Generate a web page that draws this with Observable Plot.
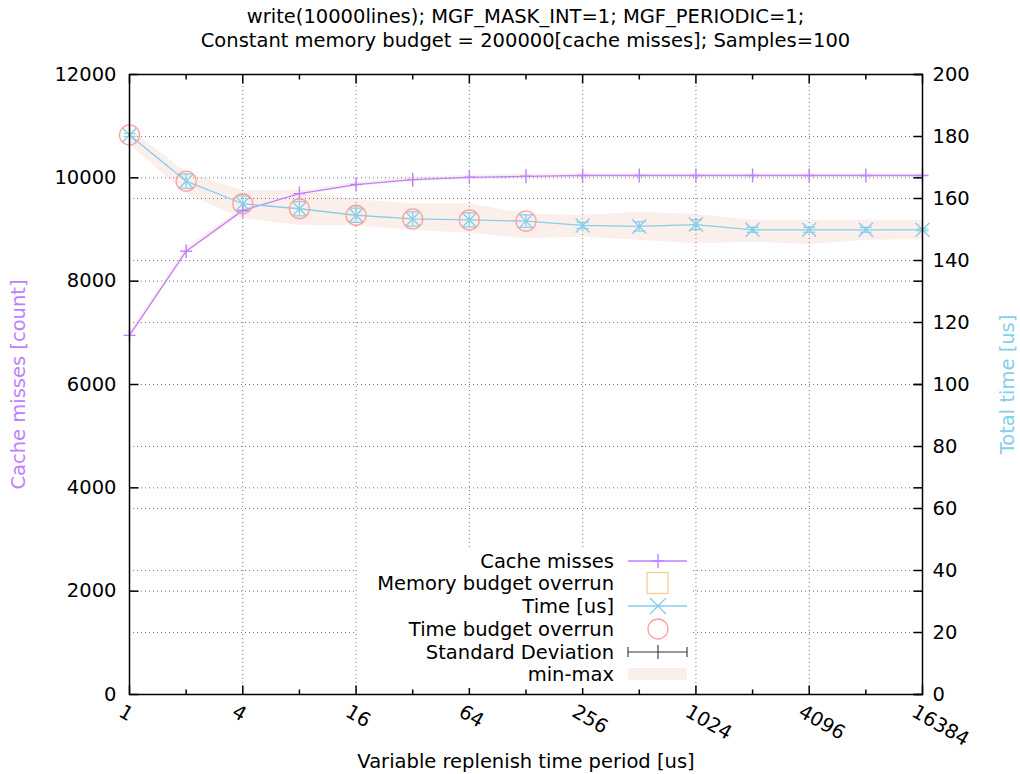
<!DOCTYPE html>
<html><head><meta charset="utf-8">
<script src="https://cdn.jsdelivr.net/npm/d3@7"></script>
<script src="https://cdn.jsdelivr.net/npm/@observablehq/plot@0.6"></script>
<style>
body{margin:0;background:#fff;font-family:"DejaVu Sans",sans-serif;}
#wrap{position:relative;width:1020px;height:774px;overflow:hidden;}
#title{position:absolute;left:31px;width:989px;top:5px;text-align:center;font-size:19.5px;line-height:24px;color:#000;}
#chart{position:absolute;left:0;top:60px;}
#legend{position:absolute;left:357px;top:548px;}
</style></head><body>
<div id="wrap">
<div id="title">write(10000lines); MGF_MASK_INT=1; MGF_PERIODIC=1;<br>Constant memory budget = 200000[cache misses]; Samples=100</div>
<div id="chart"></div>
<div id="legend"></div>
</div>
<script>
// ---- data ----
const periods     = [1, 2, 4, 8, 16, 32, 64, 128, 256, 512, 1024, 2048, 4096, 8192, 16384];
const cacheMisses = [6950, 8580, 9370, 9695, 9870, 9965, 10010, 10030, 10045, 10045, 10045, 10045, 10045, 10045, 10045];
const timeUs      = [180.5, 165.6, 158.3, 156.7, 154.6, 153.4, 153.1, 152.7, 151.3, 151.0, 151.6, 149.9, 149.9, 149.9, 149.9];
const timeMin     = [177.5, 161.5, 153.5, 151.3, 151.2, 149.7, 148.8, 147.0, 147.5, 146.5, 145.4, 145.9, 145.2, 146.5, 146.7];
const timeMax     = [182.5, 168.5, 162.5, 162.7, 159.6, 158.3, 158.3, 155.0, 154.5, 155.6, 154.8, 153.0, 153.0, 153.0, 153.0];
const timeSd      = [0.5, 2.3, 2.5, 2.3, 2.3, 2.3, 2.3, 2.0, 1.0, 1.5, 1.6, 0.8, 0.8, 0.8, 0.3];
const cacheMin    = [6890, 8520, 9320, 9650, 9830, 9925, 9970, 9990, 10005, 10005, 10005, 10005, 10005, 10005, 10005];
const cacheMax    = [7010, 8640, 9420, 9740, 9910, 10005, 10050, 10070, 10085, 10085, 10085, 10085, 10085, 10085, 10085];
const timeOverrunPeriods = [1, 2, 4, 8, 16, 32, 64, 128];
const xTickValues  = [1, 4, 16, 64, 256, 1024, 4096, 16384];
const xMinorValues = [2, 8, 32, 128, 512, 2048, 8192];
const yTickValues  = [0, 2000, 4000, 6000, 8000, 10000, 12000];
const y2TickValues = [0, 20, 40, 60, 80, 100, 120, 140, 160, 180, 200];
const legendLabels = ["Cache misses", "Memory budget overrun", "Time [us]", "Time budget overrun", "Standard Deviation", "min-max"];

// ---- styles ----
const PURPLE = "#c080ff", BLUE = "#87ceeb", SALMON = "#ffa0a0", ORANGE = "#f5cf8e", BAND = "#faefea";
const FS = "19.5px";
const K = 12000 / 200; // right-axis (time) to left-axis units

const rows = periods.map((p, i) => ({
  x: p, cm: cacheMisses[i], cmMin: cacheMin[i], cmMax: cacheMax[i],
  t: timeUs[i], tMin: timeMin[i], tMax: timeMax[i], sd: timeSd[i]
}));
const overrun = rows.filter(r => timeOverrunPeriods.includes(r.x));

const sym = (fn) => ({draw: fn});
const plusSym  = sym((c) => { c.moveTo(-6, 0); c.lineTo(6, 0); c.moveTo(0, -7); c.lineTo(0, 7); });
const timesSym = sym((c) => { c.moveTo(-7, -7); c.lineTo(7, 7); c.moveTo(-7, 7); c.lineTo(7, -7); });
const capSym   = sym((c) => { c.moveTo(-6, 0); c.lineTo(6, 0); });
const tickR = (n) => sym((c) => { c.moveTo(0, 0); c.lineTo(n, 0); });
const tickL = (n) => sym((c) => { c.moveTo(0, 0); c.lineTo(-n, 0); });
const tickU = (n) => sym((c) => { c.moveTo(0, 0); c.lineTo(0, -n); });
const tickD = (n) => sym((c) => { c.moveTo(0, 0); c.lineTo(0, n); });

const gridStyle = {stroke: "#777", strokeOpacity: 1, strokeWidth: 1, strokeDasharray: "1,3"};

const chart = Plot.plot({
  width: 1020, height: 714,
  marginTop: 14, marginBottom: 80, marginLeft: 129, marginRight: 98,
  style: {fontFamily: "DejaVu Sans, sans-serif", fontSize: FS, color: "#000", background: "transparent"},
  x: {type: "log", base: 2, domain: [1, 16384], axis: null},
  y: {domain: [0, 12000]},
  marks: [
    Plot.areaY(rows, {x: "x", y1: d => d.tMin * K, y2: d => d.tMax * K, fill: BAND}),
    Plot.areaY(rows, {x: "x", y1: "cmMin", y2: "cmMax", fill: BAND}),
    Plot.gridX(xTickValues, {x: d => d, ...gridStyle}),
    Plot.gridY(yTickValues, {y: d => d, ...gridStyle}),
    Plot.gridY(y2TickValues, {y: d => d * K, ...gridStyle}),
    // axes ticks (inward, gnuplot style)
    Plot.dot(yTickValues, {y: d => d, frameAnchor: "left", symbol: tickR(9), stroke: "black", fill: "none"}),
    Plot.dot(yTickValues, {y: d => d, frameAnchor: "right", symbol: tickL(9), stroke: "black", fill: "none"}),
    Plot.dot(y2TickValues, {y: d => d * K, frameAnchor: "right", symbol: tickL(9), stroke: "black", fill: "none"}),
    Plot.dot(xTickValues, {x: d => d, frameAnchor: "bottom", symbol: tickU(9), stroke: "black", fill: "none"}),
    Plot.dot(xMinorValues, {x: d => d, frameAnchor: "bottom", symbol: tickU(5), stroke: "black", fill: "none"}),
    Plot.dot(xTickValues, {x: d => d, frameAnchor: "top", symbol: tickD(9), stroke: "black", fill: "none"}),
    Plot.dot(xMinorValues, {x: d => d, frameAnchor: "top", symbol: tickD(5), stroke: "black", fill: "none"}),
    Plot.axisY({ticks: yTickValues, tickFormat: d => String(d), tickSize: 0, tickPadding: 13, label: null, fontSize: FS}),
    Plot.axisY({anchor: "right", ticks: y2TickValues.map(t => t * K), tickFormat: d => String(Math.round(d / K)), tickSize: 0, tickPadding: 10, label: null, fontSize: FS}),
    Plot.text(xTickValues, {x: d => d, text: d => String(d), frameAnchor: "bottom", rotate: 30, textAnchor: "start", lineAnchor: "top", dx: -5, dy: 9, fontSize: FS}),
    Plot.text(["Variable replenish time period [us]"], {frameAnchor: "bottom", textAnchor: "middle", dy: 73, fontSize: FS}),
    Plot.text(["Cache misses [count]"], {frameAnchor: "left", textAnchor: "middle", dx: -111, rotate: -90, fill: PURPLE, fontSize: FS}),
    Plot.text(["Total time [us]"], {frameAnchor: "right", textAnchor: "middle", dx: 85, rotate: -90, fill: BLUE, fontSize: FS}),
    // series
    Plot.line(rows, {x: "x", y: "cm", stroke: PURPLE, strokeWidth: 1.3}),
    Plot.line(rows, {x: "x", y: d => d.t * K, stroke: BLUE, strokeWidth: 1.3}),
    Plot.ruleX(rows, {x: "x", y1: d => (d.t - d.sd) * K, y2: d => (d.t + d.sd) * K, stroke: BLUE, strokeWidth: 1.2}),
    Plot.dot(rows, {x: "x", y: d => (d.t - d.sd) * K, symbol: capSym, stroke: BLUE, fill: "none", strokeWidth: 1.2}),
    Plot.dot(rows, {x: "x", y: d => (d.t + d.sd) * K, symbol: capSym, stroke: BLUE, fill: "none", strokeWidth: 1.2}),
    Plot.dot(rows, {x: "x", y: "cm", symbol: plusSym, stroke: PURPLE, fill: "none", strokeWidth: 1.4}),
    Plot.dot(rows, {x: "x", y: d => d.t * K, symbol: timesSym, stroke: BLUE, fill: "none", strokeWidth: 1.4}),
    Plot.dot(overrun, {x: "x", y: d => d.t * K, r: 10, stroke: SALMON, fill: "none", strokeWidth: 1.3}),
    Plot.frame({stroke: "black", strokeWidth: 1.5})
  ]
});
document.getElementById("chart").appendChild(chart);

// ---- legend (inside plot area, white box) ----
const L = d3.select("#legend").append("svg").attr("width", 336).attr("height", 140)
  .style("font-family", "DejaVu Sans, sans-serif").style("font-size", FS);
L.append("rect").attr("width", 336).attr("height", 140).attr("fill", "#fff");
const rowY = [13, 35, 58, 81, 104, 126];
legendLabels.forEach((lab, i) => {
  L.append("text").attr("x", 257).attr("y", rowY[i]).attr("text-anchor", "end")
    .attr("dominant-baseline", "central").text(lab);
});
const sx0 = 271, sx1 = 330, sc = 301;
let y = rowY[0];
L.append("line").attr("x1", sx0).attr("x2", sx1).attr("y1", y).attr("y2", y).attr("stroke", PURPLE).attr("stroke-width", 1.3);
L.append("path").attr("d", `M${sc-6},${y}h12M${sc},${y-7}v14`).attr("stroke", PURPLE).attr("stroke-width", 1.4);
y = rowY[1];
L.append("rect").attr("x", sc - 11).attr("y", y - 10.5).attr("width", 21).attr("height", 21).attr("fill", "none").attr("stroke", ORANGE).attr("stroke-width", 1.3);
y = rowY[2];
L.append("line").attr("x1", sx0).attr("x2", sx1).attr("y1", y).attr("y2", y).attr("stroke", BLUE).attr("stroke-width", 1.3);
L.append("path").attr("d", `M${sc-8},${y-8}l16,16M${sc-8},${y+8}l16,-16`).attr("stroke", BLUE).attr("stroke-width", 1.4);
y = rowY[3];
L.append("circle").attr("cx", sc).attr("cy", y).attr("r", 10).attr("fill", "none").attr("stroke", SALMON).attr("stroke-width", 1.3);
y = rowY[4];
L.append("path").attr("d", `M${sx0},${y}H${sx1}M${sx0},${y-5}v10M${sx1},${y-5}v10M${sc},${y-7}v14`).attr("stroke", "#333").attr("stroke-width", 1.1).attr("fill", "none");
y = rowY[5];
L.append("rect").attr("x", sx0).attr("y", y - 6).attr("width", sx1 - sx0).attr("height", 12).attr("fill", BAND);
</script>
</body></html>
